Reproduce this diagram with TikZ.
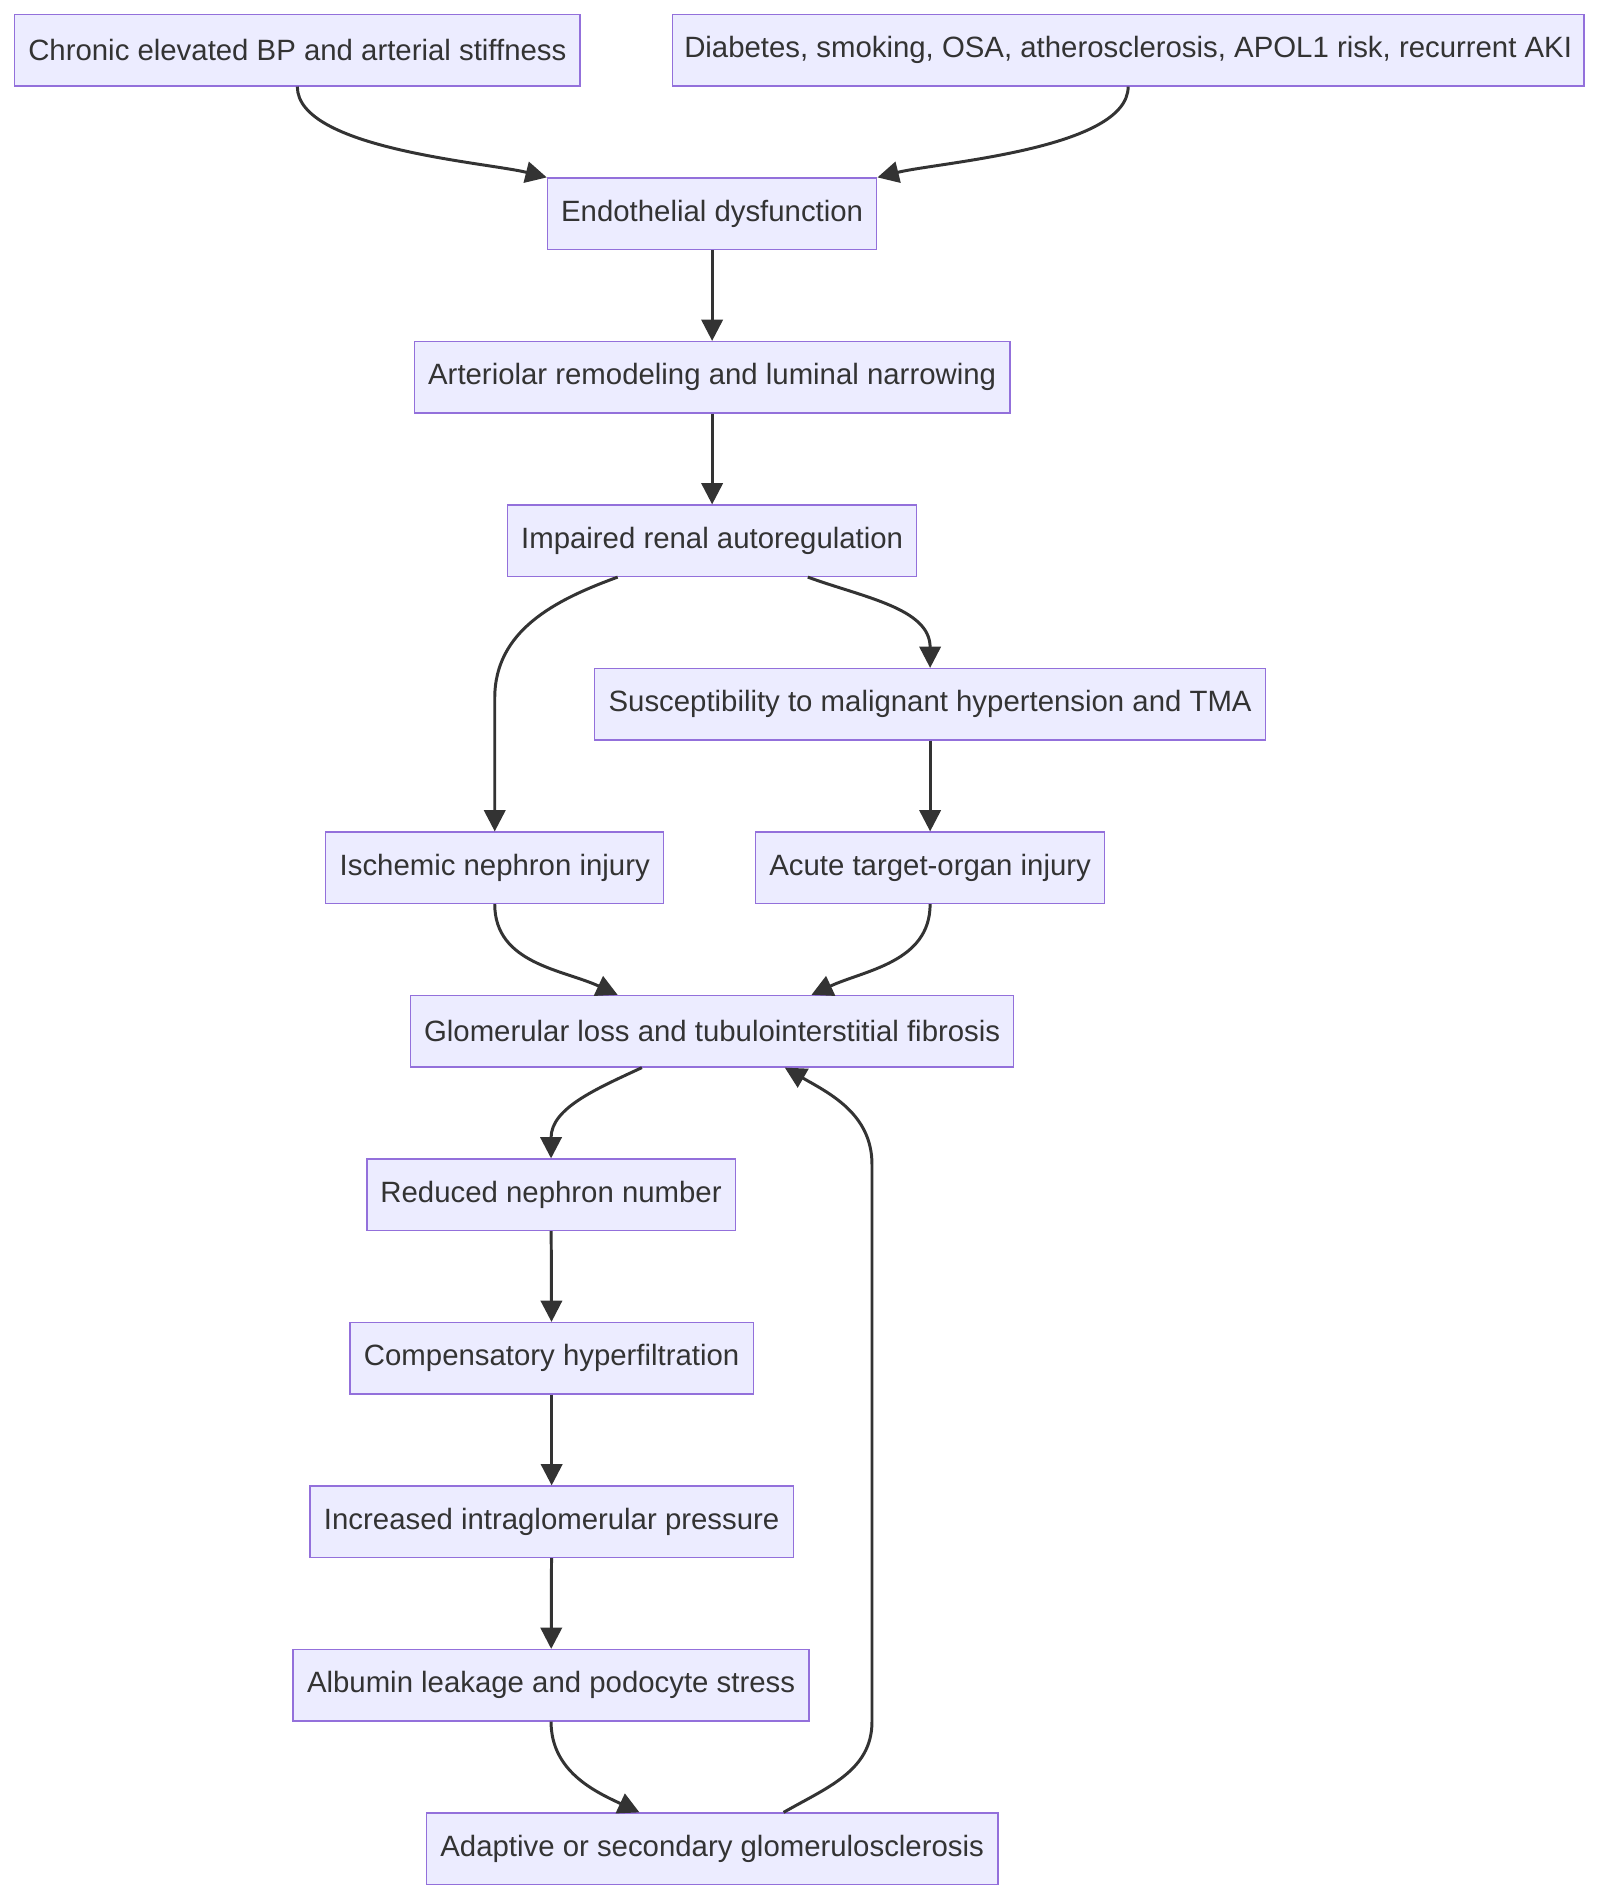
\documentclass[tikz,border=0pt]{standalone}
\usepackage{fontspec}
\setmainfont{Liberation Sans}
\usetikzlibrary{calc, arrows.meta}
\definecolor{boxfill}{HTML}{ECECFF}
\definecolor{boxline}{HTML}{9370DB}
\definecolor{linkcol}{HTML}{333333}
\tikzset{
  box/.style={draw=boxline, fill=boxfill, line width=0.6pt, minimum height=1.18cm,
    inner xsep=0.1cm, font=\fontsize{13.8}{16}\selectfont, text=linkcol},
  link/.style={draw=linkcol, line width=1.4pt, -{Stealth[length=10pt, width=10pt, inset=0pt]}},
}
\begin{document}
\begin{tikzpicture}[x=0.02cm, y=-0.02cm]
  \useasboundingbox[fill=white] (0,0) rectangle (1320,1568);
  % boxes
  \node[box, minimum width=467*0.02cm] (elev) at (245.5,41.5) {Chronic elevated BP and arterial stiffness};
  \node[box, minimum width=753*0.02cm] (risk) at (931.5,41.5) {Diabetes, smoking, OSA, atherosclerosis, APOL1 risk, recurrent AKI};
  \node[box, minimum width=272*0.02cm] (endo) at (588,176.5) {Endothelial dysfunction};
  \node[box, minimum width=492*0.02cm] (arter) at (588,311.5) {Arteriolar remodeling and luminal narrowing};
  \node[box, minimum width=338*0.02cm] (autoreg) at (588,446.5) {Impaired renal autoregulation};
  \node[box, minimum width=554*0.02cm] (malig) at (768,581.5) {Susceptibility to malignant hypertension and TMA};
  \node[box, minimum width=279*0.02cm] (ischem) at (408.5,716.5) {Ischemic nephron injury};
  \node[box, minimum width=288*0.02cm] (acute) at (768,716.5) {Acute target-organ injury};
  \node[box, minimum width=498*0.02cm] (fibro) at (588,851.5) {Glomerular loss and tubulointerstitial fibrosis};
  \node[box, minimum width=304*0.02cm] (reduced) at (455,986.5) {Reduced nephron number};
  \node[box, minimum width=333*0.02cm] (hyper) at (455.5,1121.5) {Compensatory hyperfiltration};
  \node[box, minimum width=399*0.02cm] (press) at (455.5,1256.5) {Increased intraglomerular pressure};
  \node[box, minimum width=426*0.02cm] (album) at (455,1391.5) {Albumin leakage and podocyte stress};
  \node[box, minimum width=472*0.02cm] (sclero) at (588,1526.5) {Adaptive or secondary glomerulosclerosis};

  % links
  \draw[link] (elev.south) to[out=-90, in=166, looseness=0.6] (endo.north west);
  \draw[link] (risk.south) to[out=-90, in=14, looseness=0.6] (endo.north east);
  \draw[link] (endo) -- (arter);
  \draw[link] (arter) -- (autoreg);
  \draw[link] ($(autoreg.south)+(-78,0)$) to[out=-160, in=90] ($(ischem.north)+(0,-110)$) -- (ischem.north);
  \draw[link] ($(autoreg.south)+(79,0)$) to[out=-20, in=90] (malig.north);
  \draw[link] (malig) -- (acute);
  \draw[link] (ischem.south) to[out=-90, in=155] ($(fibro.north)+(-78,0)$);
  \draw[link] (acute.south) to[out=-90, in=25] ($(fibro.north)+(82,0)$);
  \draw[link] ($(fibro.south)+(-58,0)$) to[out=-155, in=90] (reduced.north);
  \draw[link] (reduced) -- (hyper);
  \draw[link] (hyper) -- (press);
  \draw[link] (press) -- (album);
  \draw[link] (album.south) to[out=-90, in=155] ($(sclero.north)+(-60,0)$);
  \draw[link] ($(sclero.north)+(59,0)$) to[out=30, in=-90] ($(fibro.south)+(132,540)$)
    -- ($(fibro.south)+(132,80)$) to[out=90, in=-30] ($(fibro.south)+(60,0)$);
\end{tikzpicture}
\end{document}
